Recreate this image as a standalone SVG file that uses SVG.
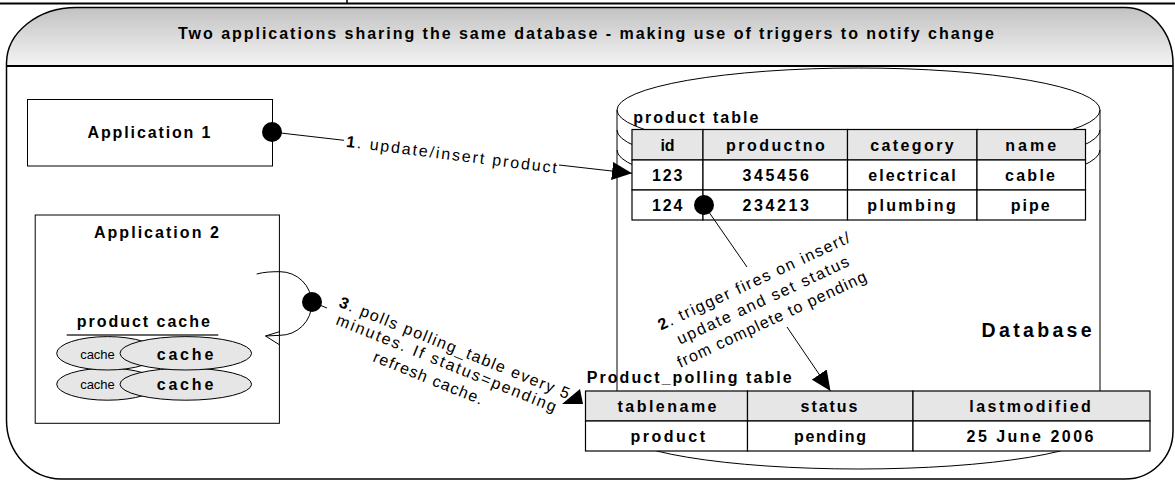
<svg xmlns="http://www.w3.org/2000/svg" width="1175" height="485" viewBox="0 0 1175 485">
<style>
text{font-family:"Liberation Sans",Arial,sans-serif;fill:#000}
.b{font-weight:bold}
.t{font-size:16px;font-weight:bold;text-anchor:middle}
.s{font-size:16px;font-weight:bold}
.box{fill:#fff;stroke:#000;stroke-width:1}
.ln{fill:none;stroke:#000;stroke-width:1}
.cell{fill:#fff;stroke:#000;stroke-width:1.2}
.hdr{fill:#e6e6e6;stroke:#000;stroke-width:1.2}
.ell{fill:#e6e6e6;stroke:#000;stroke-width:1}
.lbl{font-size:16px}
.dot{fill:#000}
</style>
<defs>
<linearGradient id="band" x1="0" y1="0" x2="0" y2="1">
<stop offset="0" stop-color="#c2c2c2"/><stop offset="1" stop-color="#f4f4f4"/>
</linearGradient>
<marker id="arr" viewBox="0 0 20 18" refX="20" refY="9" markerWidth="20" markerHeight="18" markerUnits="userSpaceOnUse" orient="auto">
<path d="M0,0 L20,9 L0,18 Z" fill="#000"/>
</marker>
</defs>

<g id="page">
<line x1="0" y1="3.5" x2="1175" y2="3.5" stroke="#000" stroke-width="2"/>
<line x1="347" y1="0" x2="347" y2="3.5" stroke="#000" stroke-width="1.5"/>
</g>

<g id="frame">
<path d="M6.5,66 V63 A70,56 0 0 1 76.5,7.5 H1125 A48,56 0 0 1 1173,63.5 V66 Z" fill="url(#band)"/>
<path d="M6.5,63 A70,56 0 0 1 76.5,7.5 H1125 A48,56 0 0 1 1173,63.5 V431 A48,48 0 0 1 1125,479 H61 A55,59 0 0 1 6.5,420 Z" fill="none" stroke="#000" stroke-width="1.5"/>
<line x1="6.5" y1="66" x2="1173" y2="66" stroke="#000" stroke-width="2"/>
<text x="586" y="38.5" class="t" textLength="816" lengthAdjust="spacing">Two applications sharing the same database - making use of triggers to notify change</text>
</g>

<g id="app1">
<rect x="27.5" y="99.5" width="245" height="66.5" class="box"/>
<text x="149" y="138.3" class="t" textLength="123" lengthAdjust="spacing">Application 1</text>
</g>

<g id="app2">
<rect x="35.2" y="215" width="244.2" height="208.3" class="box"/>
<text x="156.4" y="238.3" class="t" textLength="125" lengthAdjust="spacing">Application 2</text>
<text x="143.3" y="326.7" class="t" textLength="133" lengthAdjust="spacing">product cache</text>
<line x1="66.7" y1="335" x2="218.3" y2="335" stroke="#666" stroke-width="2"/>
<ellipse cx="107.5" cy="384.2" rx="50.8" ry="16" class="ell"/>
<ellipse cx="107.5" cy="353.3" rx="50.8" ry="16.7" class="ell"/>
<ellipse cx="185.8" cy="384.2" rx="65.8" ry="16" class="ell"/>
<ellipse cx="185.8" cy="353.3" rx="65.8" ry="16.7" class="ell"/>
<text x="97.5" y="359.3" font-size="13" text-anchor="middle">cache</text>
<text x="97.5" y="389.3" font-size="13" text-anchor="middle">cache</text>
<text x="185" y="360" class="t" textLength="56.7" lengthAdjust="spacing">cache</text>
<text x="185" y="390" class="t" textLength="56.7" lengthAdjust="spacing">cache</text>
</g>

<g id="database">
<path d="M617,110 A241.5,42 0 0 1 1100,110 V429 A241.5,40 0 0 1 617,429 Z" fill="#fff" stroke="#000" stroke-width="1"/>
<path d="M617,110 A241.5,42 0 0 0 1100,110 M617,130 A241.5,42 0 0 0 1100,130 M617,150 A241.5,42 0 0 0 1100,150" class="ln"/>
<text x="981.6" y="336.7" font-size="19.5" class="b" textLength="110" lengthAdjust="spacing">Database</text>
</g>

<g id="product_table">
<text x="633.3" y="123.3" class="s" textLength="125" lengthAdjust="spacing">product table</text>
<rect x="632" y="129.5" width="71" height="30.5" class="hdr"/>
<rect x="703" y="129.5" width="144.5" height="30.5" class="hdr"/>
<rect x="847.5" y="129.5" width="129.5" height="30.5" class="hdr"/>
<rect x="977" y="129.5" width="108.5" height="30.5" class="hdr"/>
<rect x="632" y="160" width="71" height="30" class="cell"/>
<rect x="703" y="160" width="144.5" height="30" class="cell"/>
<rect x="847.5" y="160" width="129.5" height="30" class="cell"/>
<rect x="977" y="160" width="108.5" height="30" class="cell"/>
<rect x="632" y="190" width="71" height="30" class="cell"/>
<rect x="703" y="190" width="144.5" height="30" class="cell"/>
<rect x="847.5" y="190" width="129.5" height="30" class="cell"/>
<rect x="977" y="190" width="108.5" height="30" class="cell"/>
<text x="667.5" y="150.5" class="t">id</text>
<text x="775.4" y="150.5" class="t" textLength="98.7" lengthAdjust="spacing">productno</text>
<text x="912" y="150.5" class="t" textLength="83.5" lengthAdjust="spacing">category</text>
<text x="1030.7" y="150.5" class="t" textLength="51" lengthAdjust="spacing">name</text>
<text x="667.2" y="180.5" class="t" textLength="30.4" lengthAdjust="spacing">123</text>
<text x="775.6" y="180.5" class="t" textLength="66.4" lengthAdjust="spacing">345456</text>
<text x="912" y="180.5" class="t" textLength="87.3" lengthAdjust="spacing">electrical</text>
<text x="1030" y="180.5" class="t" textLength="50" lengthAdjust="spacing">cable</text>
<text x="667.2" y="210.5" class="t" textLength="30.4" lengthAdjust="spacing">124</text>
<text x="775.6" y="210.5" class="t" textLength="66.4" lengthAdjust="spacing">234213</text>
<text x="911.5" y="210.5" class="t" textLength="88.4" lengthAdjust="spacing">plumbing</text>
<text x="1030.2" y="210.5" class="t" textLength="39" lengthAdjust="spacing">pipe</text>
</g>

<g id="polling_table">
<text x="586.7" y="383.3" class="s" textLength="205" lengthAdjust="spacing">Product_polling table</text>
<rect x="585.5" y="391" width="162" height="30" class="hdr"/>
<rect x="747.5" y="391" width="165.5" height="30" class="hdr"/>
<rect x="913" y="391" width="237" height="30" class="hdr"/>
<rect x="585.5" y="421" width="162" height="30" class="cell"/>
<rect x="747.5" y="421" width="165.5" height="30" class="cell"/>
<rect x="913" y="421" width="237" height="30" class="cell"/>
<text x="667" y="411.5" class="t" textLength="99" lengthAdjust="spacing">tablename</text>
<text x="829" y="411.5" class="t" textLength="57" lengthAdjust="spacing">status</text>
<text x="1030" y="411.5" class="t" textLength="121.6" lengthAdjust="spacing">lastmodified</text>
<text x="667.8" y="441.5" class="t" textLength="74.5" lengthAdjust="spacing">product</text>
<text x="830" y="441.5" class="t" textLength="72" lengthAdjust="spacing">pending</text>
<text x="1030" y="441.5" class="t" textLength="127" lengthAdjust="spacing">25 June 2006</text>
</g>

<g id="connectors">
<path class="ln" d="M272,132 L344,140.3"/>
<path class="ln" d="M559,165 L632,173.3" marker-end="url(#arr)"/>
<path class="ln" d="M704,205 L747,267"/>
<path class="ln" d="M787,327 L830.5,391" marker-end="url(#arr)"/>
<path class="ln" d="M312,302 L327,308"/>
<polygon points="580,389 562,404 583,404" fill="#000"/>
<path class="ln" d="M256.7,274 C264,272 272,271.6 280,271.7 A31.8,31.8 0 0 1 280,335.3 L265.5,336"/>
<polyline class="ln" points="280,331.5 265.5,336 279,344.5"/>
<circle cx="272" cy="132" r="10" class="dot"/>
<circle cx="704" cy="205" r="10" class="dot"/>
<circle cx="312" cy="302" r="10" class="dot"/>
<text class="lbl" text-anchor="middle" transform="translate(451.6,155) rotate(7.2)" y="5" textLength="212" lengthAdjust="spacing"><tspan class="b">1</tspan>. update/insert product</text>
<g transform="translate(763,300.6) rotate(-25)">
<text class="lbl" text-anchor="middle" y="-16" textLength="210" lengthAdjust="spacing"><tspan class="b">2</tspan>. trigger fires on insert/</text>
<text class="lbl" text-anchor="middle" y="5" textLength="188" lengthAdjust="spacing">update and set status</text>
<text class="lbl" text-anchor="middle" y="26" textLength="207" lengthAdjust="spacing">from complete to pending</text>
</g>
<text class="lbl" transform="translate(338.1,306.6) rotate(22)" textLength="247" lengthAdjust="spacing"><tspan class="b">3</tspan>. polls polling_table every 5</text>
<text class="lbl" transform="translate(335,324) rotate(22)" textLength="236" lengthAdjust="spacing">minutes. If status=pending</text>
<text class="lbl" transform="translate(372,361) rotate(22)" letter-spacing="1.2">refresh cache.</text>
</g>
</svg>
